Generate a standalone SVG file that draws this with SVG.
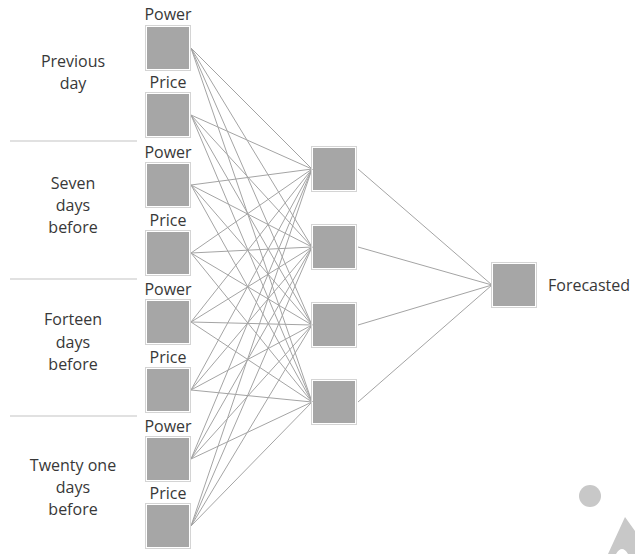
<svg xmlns="http://www.w3.org/2000/svg" width="635" height="554" viewBox="0 0 635 554">
<style>
text{font-family:"Open Sans","Noto Sans","Liberation Sans",sans-serif;font-size:16px;fill:#383838}
.c{text-anchor:middle}
.b{fill:none;stroke:#d4d4d4;stroke-width:1}
.f{fill:#a6a6a6}
.l{stroke:#a4a4a4;stroke-width:1;fill:none}
.s{stroke:#c4c4c4;stroke-width:1.2}
</style>
<defs>
<g id="sq"><rect class="b" x="0.5" y="0.5" width="45" height="45"/><rect class="f" x="2" y="2" width="42" height="42"/></g>
</defs>
<rect width="635" height="554" fill="#fff"/>
<g id="connectors">
<g id="in-hid" class="l">
<path d="M191,48L312,169M191,48L312,247M191,48L312,325M191,48L312,402"/>
<path d="M191,115L312,169M191,115L312,247M191,115L312,325M191,115L312,402"/>
<path d="M191,185L312,169M191,185L312,247M191,185L312,325M191,185L312,402"/>
<path d="M191,253L312,169M191,253L312,247M191,253L312,325M191,253L312,402"/>
<path d="M191,322L312,169M191,322L312,247M191,322L312,325M191,322L312,402"/>
<path d="M191,390L312,169M191,390L312,247M191,390L312,325M191,390L312,402"/>
<path d="M191,459L312,169M191,459L312,247M191,459L312,325M191,459L312,402"/>
<path d="M191,526L312,169M191,526L312,247M191,526L312,325M191,526L312,402"/>
</g>
<g id="hid-out" class="l">
<path d="M358,169L492,285M358,247L492,285M358,325L492,285M358,402L492,285"/>
</g>
</g>
<g id="separators" class="s">
<line x1="10" y1="141" x2="137" y2="141"/>
<line x1="10" y1="279" x2="137" y2="279"/>
<line x1="10" y1="416" x2="137" y2="416"/>
</g>
<g id="group-previous"><text class="c" x="73" y="67">Previous</text><text class="c" x="73" y="89">day</text></g>
<g id="group-seven"><text class="c" x="73" y="189">Seven</text><text class="c" x="73" y="211">days</text><text class="c" x="73" y="233">before</text></g>
<g id="group-forteen"><text class="c" x="73" y="325">Forteen</text><text class="c" x="73" y="348">days</text><text class="c" x="73" y="370">before</text></g>
<g id="group-twentyone"><text class="c" x="73" y="471">Twenty one</text><text class="c" x="73" y="493">days</text><text class="c" x="73" y="515">before</text></g>
<g id="in-power1"><text class="c" x="168" y="20">Power</text><use href="#sq" x="145" y="25"/></g>
<g id="in-price1"><text class="c" x="168" y="88">Price</text><use href="#sq" x="145" y="92"/></g>
<g id="in-power2"><text class="c" x="168" y="158">Power</text><use href="#sq" x="145" y="162"/></g>
<g id="in-price2"><text class="c" x="168" y="226">Price</text><use href="#sq" x="145" y="230"/></g>
<g id="in-power3"><text class="c" x="168" y="295">Power</text><use href="#sq" x="145" y="299"/></g>
<g id="in-price3"><text class="c" x="168" y="363">Price</text><use href="#sq" x="145" y="367"/></g>
<g id="in-power4"><text class="c" x="168" y="432">Power</text><use href="#sq" x="145" y="436"/></g>
<g id="in-price4"><text class="c" x="168" y="499">Price</text><use href="#sq" x="145" y="503"/></g>
<g id="hidden1"><use href="#sq" x="311" y="146"/></g>
<g id="hidden2"><use href="#sq" x="311" y="224"/></g>
<g id="hidden3"><use href="#sq" x="311" y="302"/></g>
<g id="hidden4"><use href="#sq" x="311" y="379"/></g>
<g id="output"><use href="#sq" x="491" y="262"/><text x="548" y="291">Forecasted</text></g>
<g id="deco" fill="#c8c8c8">
<circle cx="590" cy="496" r="11"/>
<path d="M608,554L625,517L635,531L635,554L628,554Q622,544 616,554Z"/>
</g>
</svg>
